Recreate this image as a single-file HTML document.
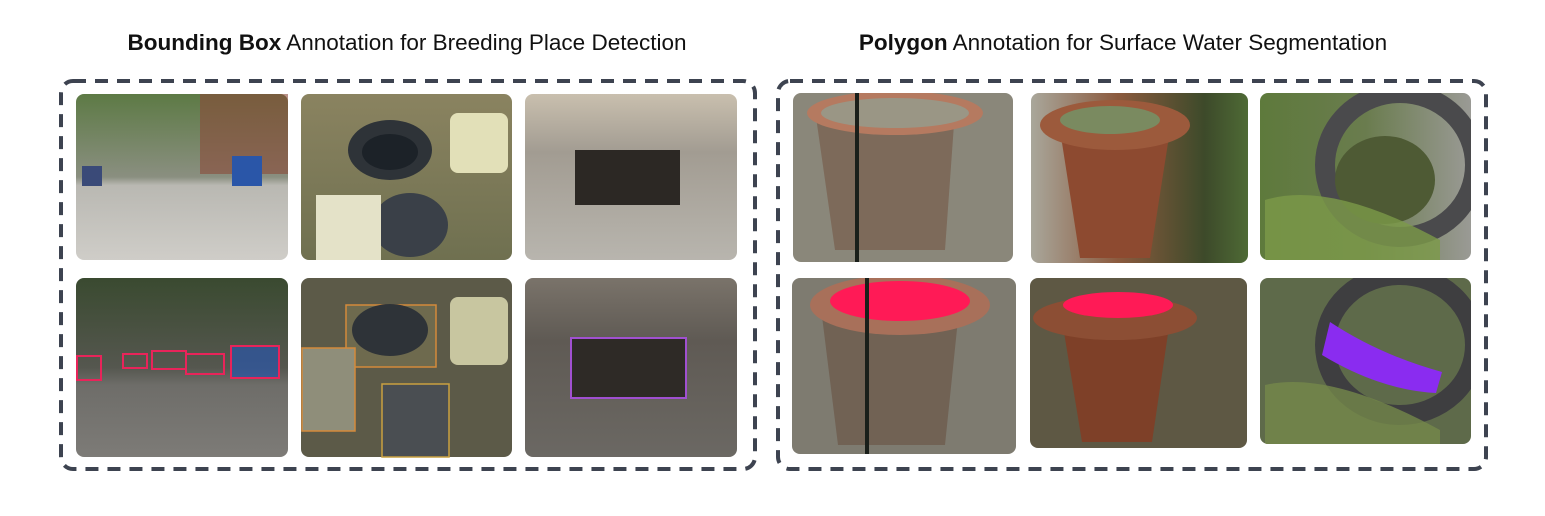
<!DOCTYPE html>
<html><head><meta charset="utf-8"><style>
body{margin:0;background:#fff;width:1545px;height:511px;overflow:hidden;font-family:"Liberation Sans",sans-serif}
</style></head><body>
<svg width="1545" height="511" xmlns="http://www.w3.org/2000/svg" font-family="Liberation Sans, sans-serif">
<defs>
<linearGradient id="g1" x1="0" y1="0" x2="0" y2="1"><stop offset="0" stop-color="#5d7a45"/><stop offset="0.5" stop-color="#8a8f80"/><stop offset="0.55" stop-color="#b9b8b2"/><stop offset="1" stop-color="#cfcdc8"/></linearGradient>
<linearGradient id="g1d" x1="0" y1="0" x2="0" y2="1"><stop offset="0" stop-color="#3a4a30"/><stop offset="0.5" stop-color="#55574f"/><stop offset="0.6" stop-color="#6e6d69"/><stop offset="1" stop-color="#7d7b77"/></linearGradient>
<linearGradient id="g2" x1="0" y1="0" x2="0" y2="1"><stop offset="0" stop-color="#8a8360"/><stop offset="1" stop-color="#6f7050"/></linearGradient>
<linearGradient id="g3" x1="0" y1="0" x2="0" y2="1"><stop offset="0" stop-color="#c9bfae"/><stop offset="0.35" stop-color="#a29c92"/><stop offset="1" stop-color="#b8b5ae"/></linearGradient>
<linearGradient id="g3d" x1="0" y1="0" x2="0" y2="1"><stop offset="0" stop-color="#7a736a"/><stop offset="0.35" stop-color="#5f5a54"/><stop offset="1" stop-color="#6b6863"/></linearGradient>
<linearGradient id="g5" x1="0" y1="0" x2="1" y2="0"><stop offset="0" stop-color="#a9a79b"/><stop offset="0.4" stop-color="#8b5a3e"/><stop offset="0.8" stop-color="#3d4a2a"/><stop offset="1" stop-color="#4e6a35"/></linearGradient>
<linearGradient id="g6" x1="0" y1="0" x2="1" y2="0"><stop offset="0" stop-color="#5e7a3c"/><stop offset="0.5" stop-color="#6a7c4e"/><stop offset="1" stop-color="#9a9a95"/></linearGradient>
<clipPath id="c1"><rect x="1260" y="93" width="211" height="167" rx="8"/></clipPath>
<clipPath id="c2"><rect x="1260" y="278" width="211" height="166" rx="8"/></clipPath>
<clipPath id="c3"><rect x="793" y="93" width="220" height="169" rx="8"/></clipPath>
<clipPath id="c4"><rect x="792" y="278" width="224" height="176" rx="8"/></clipPath>
<clipPath id="c5"><rect x="1031" y="93" width="217" height="170" rx="8"/></clipPath>
<clipPath id="c6"><rect x="1030" y="278" width="217" height="170" rx="8"/></clipPath>
</defs>
<text x="407" y="50" font-size="22.5" text-anchor="middle" fill="#111"><tspan font-weight="bold">Bounding Box</tspan> Annotation for Breeding Place Detection</text>
<text x="1123" y="50" font-size="22.5" text-anchor="middle" fill="#111"><tspan font-weight="bold">Polygon</tspan> Annotation for Surface Water Segmentation</text>
<rect x="61" y="81" width="694" height="388" rx="12" fill="none" stroke="#3d4350" stroke-width="4" stroke-dasharray="13 9"/>
<rect x="778" y="81" width="708" height="388" rx="12" fill="none" stroke="#3d4350" stroke-width="4" stroke-dasharray="13 9"/>

<rect x="76" y="94" width="212" height="166" rx="8" fill="url(#g1)"/>
<rect x="200" y="94" width="88" height="80" fill="#8a4a38" opacity="0.6"/>
<rect x="232" y="156" width="30" height="30" fill="#2a56a8"/>
<rect x="82" y="166" width="20" height="20" fill="#3a4a78"/>
<rect x="301" y="94" width="211" height="166" rx="8" fill="url(#g2)"/>
<ellipse cx="390" cy="150" rx="42" ry="30" fill="#2e3338"/><ellipse cx="390" cy="152" rx="28" ry="18" fill="#1c2228"/>
<ellipse cx="410" cy="225" rx="38" ry="32" fill="#3a4048"/>
<rect x="316" y="195" width="65" height="65" fill="#e4e2c8"/>
<rect x="450" y="113" width="58" height="60" rx="8" fill="#e2e0b8"/>
<rect x="525" y="94" width="212" height="166" rx="8" fill="url(#g3)"/>
<rect x="575" y="150" width="105" height="55" fill="#2c2824"/>

<rect x="76" y="278" width="212" height="179" rx="8" fill="url(#g1d)"/>
<g fill="none" stroke="#e8245a" stroke-width="2"><rect x="77" y="356" width="24" height="24"/><rect x="123" y="354" width="24" height="14"/><rect x="152" y="351" width="34" height="18"/><rect x="186" y="354" width="38" height="20"/><rect x="231" y="346" width="48" height="32"/></g>
<rect x="232" y="347" width="46" height="30" fill="#2a56a8" opacity="0.7"/>
<rect x="301" y="278" width="211" height="179" rx="8" fill="#5c5a48"/>
<rect x="346" y="305" width="90" height="62" fill="#6e6a4e" stroke="#d48a3a" stroke-width="1.5"/>
<ellipse cx="390" cy="330" rx="38" ry="26" fill="#2e3338"/>
<rect x="302" y="348" width="53" height="83" fill="#8f8e7a" stroke="#d48a3a" stroke-width="1.5"/>
<rect x="382" y="384" width="67" height="73" fill="#4a4e52" stroke="#c9a040" stroke-width="1.5"/>
<rect x="450" y="297" width="58" height="68" rx="8" fill="#c8c6a0"/>
<rect x="525" y="278" width="212" height="179" rx="8" fill="url(#g3d)"/>
<rect x="571" y="338" width="115" height="60" fill="#2e2a26" stroke="#a050d0" stroke-width="2"/>

<g clip-path="url(#c3)">
<rect x="793" y="93" width="220" height="169" fill="#8a877a"/>
<path d="M815 110 L955 110 L945 250 L835 250 Z" fill="#7d6a5a"/>
<ellipse cx="895" cy="113" rx="88" ry="22" fill="#b57a60"/><ellipse cx="895" cy="113" rx="74" ry="15" fill="#9a9685"/>
<rect x="855" y="93" width="4" height="169" fill="#1a1f1a"/>
</g>
<g clip-path="url(#c5)">
<rect x="1031" y="93" width="217" height="170" fill="url(#g5)"/>
<path d="M1060 130 L1170 130 L1150 258 L1080 258 Z" fill="#8d4a30"/>
<ellipse cx="1115" cy="125" rx="75" ry="25" fill="#9c5a3c"/><ellipse cx="1110" cy="120" rx="50" ry="14" fill="#7a8a60"/>
</g>
<g clip-path="url(#c1)">
<rect x="1260" y="93" width="211" height="167" fill="url(#g6)"/>
<ellipse cx="1400" cy="165" rx="75" ry="72" fill="none" stroke="#4a4a4c" stroke-width="20"/>
<ellipse cx="1385" cy="180" rx="50" ry="44" fill="#4e5a34"/>
<path d="M1265 200 Q1330 180 1440 240 L1440 260 L1265 260 Z" fill="#7c9a48" opacity="0.8"/>
</g>
<g clip-path="url(#c4)">
<rect x="792" y="278" width="224" height="176" fill="#7e7b70"/>
<path d="M820 300 L960 300 L945 445 L838 445 Z" fill="#716254"/>
<ellipse cx="900" cy="305" rx="90" ry="30" fill="#a8705a"/>
<ellipse cx="900" cy="301" rx="70" ry="20" fill="#ff1a56"/>
<rect x="865" y="278" width="4" height="176" fill="#1a1f1a"/>
</g>
<g clip-path="url(#c6)">
<rect x="1030" y="278" width="217" height="170" fill="#5e5844"/>
<path d="M1062 320 L1170 320 L1152 442 L1082 442 Z" fill="#7e4028"/>
<ellipse cx="1115" cy="318" rx="82" ry="22" fill="#8c4e34"/>
<ellipse cx="1118" cy="305" rx="55" ry="13" fill="#ff1a56"/>
</g>
<g clip-path="url(#c2)">
<rect x="1260" y="278" width="211" height="166" fill="#5e6a4a"/>
<ellipse cx="1400" cy="345" rx="75" ry="70" fill="none" stroke="#3e3e40" stroke-width="20"/>
<path d="M1330 322 Q1380 355 1442 372 L1436 393 Q1380 390 1322 355 Z" fill="#8a2cf0"/>
<path d="M1265 385 Q1330 370 1440 430 L1440 444 L1265 444 Z" fill="#74884a" opacity="0.8"/>
</g>
</svg>
</body></html>
